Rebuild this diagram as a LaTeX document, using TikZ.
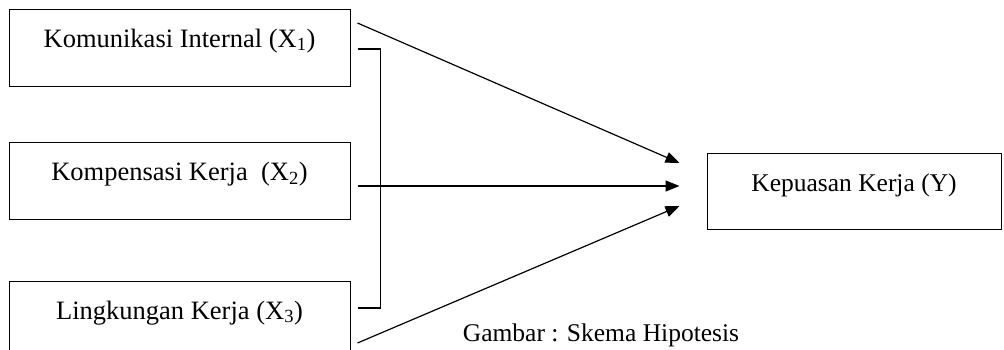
\documentclass[tikz,border=0pt]{standalone}
\usepackage{fontspec}
\setmainfont{Liberation Serif}
\usetikzlibrary{calc,arrows.meta}

\begin{document}
\begin{tikzpicture}[x=1pt,y=-1pt,
  font=\fontsize{25.5}{30}\selectfont,
  varbox/.style={draw, line width=1pt, inner sep=0pt, minimum width=341pt,
    font=\fontsize{26.5}{30}\selectfont, text height=38pt, text depth=39pt},
  hasil/.style={draw, line width=1pt, inner sep=0pt, minimum width=294pt,
    text height=38pt, text depth=38pt},
  panah/.style={line width=1.2pt, -{Triangle[length=14pt,width=11pt]}}]
\useasboundingbox (0,0) rectangle (1004,349);
\node[varbox] (komunikasi) at (179.5,47.5) {Komunikasi Internal (X\textsubscript{1})};
\node[varbox] (kompensasi) at (179.5,181) {Kompensasi Kerja~ (X\textsubscript{2})};
\node[varbox] (lingkungan) at (179.5,319.5) {Lingkungan Kerja (X\textsubscript{3})};
\node[hasil] (kepuasan) at (854,191) {Kepuasan Kerja (Y)};
\node (judul) at (601,335) {Gambar : Skema Hipotesis};
%\draw[red] (0,0) grid[step=50] (1004,349);
\draw[line width=1.2pt] ($(komunikasi.east)+(7,1.5)$) -| ($(komunikasi.east)+(30,1.5)$)
  |- ($(lingkungan.east)+(7,-11.5)$);
\draw[panah] ($(komunikasi.east)+(7,-24.5)$) -- ($(kepuasan.west)+(-27,-28)$);
\draw[panah] ($(kompensasi.east)+(7,5)$) -- ($(kepuasan.west)+(-27,-5)$);
\draw[panah] ($(lingkungan.east)+(7,23.5)$) -- ($(kepuasan.west)+(-27,15)$);
\end{tikzpicture}
\end{document}
